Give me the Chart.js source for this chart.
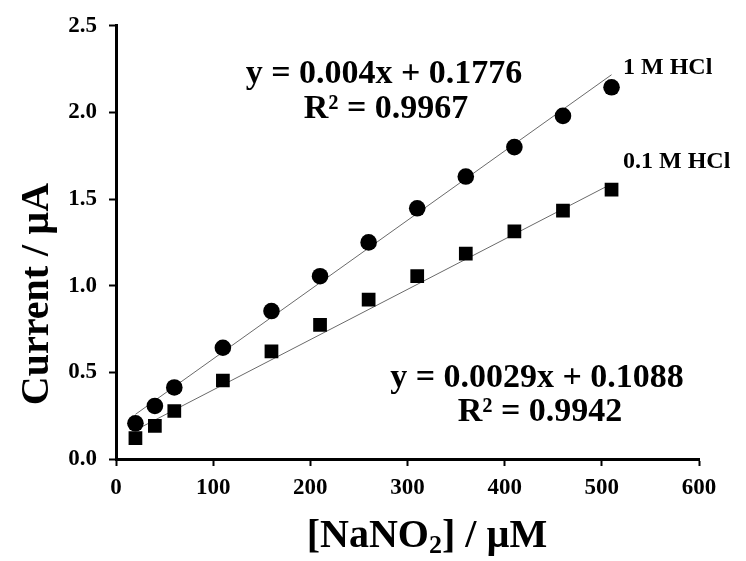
<!DOCTYPE html>
<html>
<head>
<meta charset="utf-8">
<script src="https://cdn.jsdelivr.net/npm/chart.js@4/dist/chart.umd.min.js"></script>
<style>
  html, body { margin: 0; padding: 0; background: #ffffff; }
  #wrap { width: 746px; height: 561px; position: relative; }
</style>
</head>
<body>
<div id="wrap"><canvas id="chart" width="746" height="561"></canvas></div>
<script>
// Nitrite concentrations (µM) and measured peak currents (µA)
const concentrations = [20, 40, 60, 110, 160, 210, 260, 310, 360, 410, 460, 510];
const current1M = [0.206, 0.306, 0.413, 0.642, 0.854, 1.055, 1.25, 1.447, 1.63, 1.80, 1.98, 2.145];
const current01M = [0.12, 0.191, 0.277, 0.453, 0.621, 0.774, 0.92, 1.055, 1.185, 1.313, 1.433, 1.554];

// Linear fits (slope, intercept) as reported on the plot
const fit1M = [0.004, 0.1776];
const fit01M = [0.0029, 0.1088];
const fitRange = [20, 510];

const seriesNames = ['1 M HCl', '0.1 M HCl'];
const fitLabels1M = ['y = 0.004x + 0.1776', 'R² = 0.9967'];
const fitLabels01M = ['y = 0.0029x + 0.1088', 'R² = 0.9942'];

const xTicks = [0, 100, 200, 300, 400, 500, 600];
const yTicks = [0.0, 0.5, 1.0, 1.5, 2.0, 2.5];

const SERIF = "'Liberation Serif', 'Times New Roman', serif";

const toPoints = (xs, ys) => xs.map((x, i) => ({ x: x, y: ys[i] }));
const fitLine = (f) => fitRange.map(x => ({ x: x, y: f[0] * x + f[1] }));

// Annotation texts, axis titles
const textPlugin = {
  id: 'plotText',
  afterDraw(chart) {
    const ctx = chart.ctx;
    ctx.save();
    ctx.fillStyle = '#000';
    ctx.textBaseline = 'middle';

    // regression equations
    ctx.font = `bold 34px ${SERIF}`;
    ctx.textAlign = 'center';
    ctx.fillText(fitLabels1M[0], 384, 74);
    ctx.fillText(fitLabels1M[1], 386, 109);
    ctx.fillText(fitLabels01M[0], 537, 378);
    ctx.fillText(fitLabels01M[1], 540, 412);

    // series labels
    ctx.font = `bold 24px ${SERIF}`;
    ctx.textAlign = 'left';
    ctx.fillText(seriesNames[0], 623, 68);
    ctx.fillText(seriesNames[1], 623, 162);

    // y axis title
    ctx.font = `bold 40px ${SERIF}`;
    ctx.textAlign = 'center';
    ctx.save();
    ctx.translate(38, 294);
    ctx.rotate(-Math.PI / 2);
    ctx.fillText('Current / µA', 0, 0);
    ctx.restore();

    // x axis title with subscript
    const big = `bold 40px ${SERIF}`;
    const small = `bold 26px ${SERIF}`;
    const parts = [['[NaNO', big, 0], ['2', small, 9], ['] / µM', big, 0]];
    let total = 0;
    parts.forEach(p => { ctx.font = p[1]; total += ctx.measureText(p[0]).width; });
    let x = 427 - total / 2;
    ctx.textAlign = 'left';
    parts.forEach(p => {
      ctx.font = p[1];
      ctx.fillText(p[0], x, 537 + p[2]);
      x += ctx.measureText(p[0]).width;
    });
    ctx.restore();
  }
};

new Chart(document.getElementById('chart'), {
  type: 'scatter',
  data: {
    datasets: [
      {
        label: seriesNames[0],
        data: toPoints(concentrations, current1M),
        pointStyle: 'circle',
        pointRadius: 8.3,
        pointHoverRadius: 8.3,
        backgroundColor: '#000',
        borderColor: '#000',
        borderWidth: 0,
        order: 0
      },
      {
        label: seriesNames[1],
        data: toPoints(concentrations, current01M),
        pointStyle: 'rect',
        pointRadius: 9.7,
        pointHoverRadius: 9.7,
        backgroundColor: '#000',
        borderColor: '#000',
        borderWidth: 0,
        order: 0
      },
      {
        type: 'line',
        label: 'fit 1 M',
        data: fitLine(fit1M),
        borderColor: '#6a6a6a',
        borderWidth: 1,
        pointRadius: 0,
        fill: false,
        order: 1
      },
      {
        type: 'line',
        label: 'fit 0.1 M',
        data: fitLine(fit01M),
        borderColor: '#6a6a6a',
        borderWidth: 1,
        pointRadius: 0,
        fill: false,
        order: 1
      }
    ]
  },
  options: {
    responsive: false,
    animation: false,
    events: [],
    layout: { padding: { left: 0, right: 47, top: 23, bottom: 0 } },
    plugins: {
      legend: { display: false },
      tooltip: { enabled: false }
    },
    scales: {
      x: {
        type: 'linear',
        min: 0,
        max: 600,
        afterBuildTicks: (s) => { s.ticks = xTicks.map(v => ({ value: v })); },
        afterFit: (s) => { s.height = 102; },
        border: { display: true, color: '#000', width: 3 },
        grid: { display: true, drawOnChartArea: false, drawTicks: true, tickLength: 7, tickWidth: 2, tickColor: '#000' },
        ticks: {
          color: '#000',
          font: { family: SERIF, size: 23, weight: 'bold' },
          padding: 8,
          maxRotation: 0,
          callback: (v) => String(v)
        }
      },
      y: {
        type: 'linear',
        min: 0,
        max: 2.5,
        afterBuildTicks: (s) => { s.ticks = yTicks.map(v => ({ value: v })); },
        afterFit: (s) => { s.width = 116; },
        border: { display: true, color: '#000', width: 3 },
        grid: { display: true, drawOnChartArea: false, drawTicks: true, tickLength: 7, tickWidth: 2, tickColor: '#000' },
        ticks: {
          color: '#000',
          font: { family: SERIF, size: 23, weight: 'bold' },
          padding: 12,
          callback: (v) => Number(v).toFixed(1)
        }
      }
    }
  },
  plugins: [textPlugin]
});
</script>
</body>
</html>
